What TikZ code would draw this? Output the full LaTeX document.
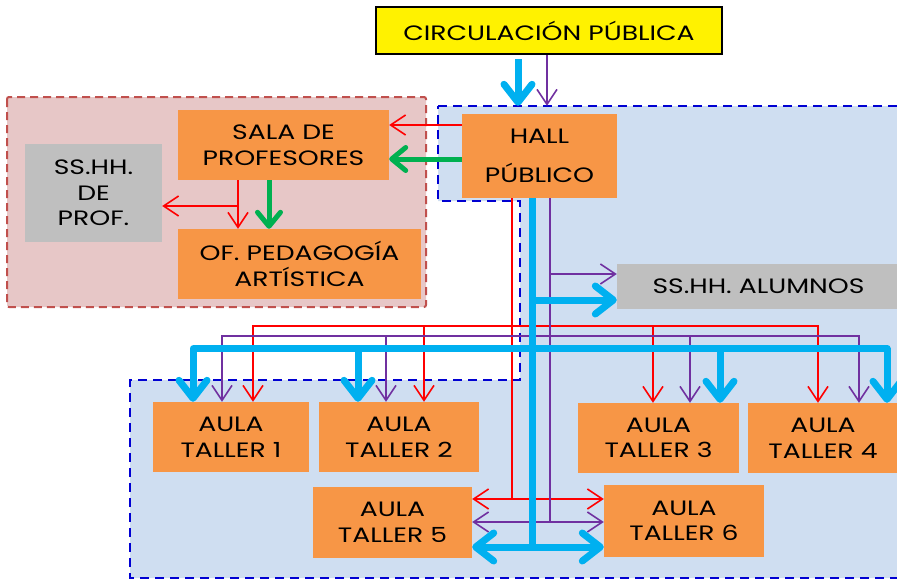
\documentclass[tikz,border=0pt]{standalone}
\usepackage{fontspec}
\setmainfont[FakeStretch=1.28]{Poppins}
\usetikzlibrary{arrows.meta, positioning, calc}
\definecolor{myorange}{RGB}{247,150,70}
\definecolor{mygray}{RGB}{191,191,191}
\definecolor{mycyan}{RGB}{0,176,240}
\definecolor{mygreen}{RGB}{0,176,80}
\definecolor{mypurple}{RGB}{112,48,160}
\definecolor{myred}{RGB}{255,0,0}
\definecolor{zoneblue}{RGB}{207,222,241}
\definecolor{edgeblue}{RGB}{0,0,210}
\definecolor{zonered}{RGB}{231,199,199}
\definecolor{edgered}{RGB}{192,80,77}

\begin{document}
\begin{tikzpicture}[x=1pt, y=-1pt,
    room/.style={fill=myorange, inner sep=0pt, align=center, font=\fontsize{20.8}{25.5}\selectfont},
    wc/.style={room, fill=mygray},
    redflow/.style={line width=1.6pt, myred, >={Straight Barb[length=15pt,width=20pt]}},
    purpleflow/.style={line width=1.6pt, mypurple, >={Straight Barb[length=15pt,width=20pt]}},
    cyanflow/.style={line width=7pt, mycyan, line join=round, >={Straight Barb[length=18pt,width=28pt,round]}},
    greenflow/.style={line width=5pt, mygreen, >={Straight Barb[length=14pt,width=23pt,round]}}]
    \useasboundingbox (0,0) rectangle (897,581);
    % Zones
    \draw[edgeblue, fill=zoneblue, line width=2.5pt, dash pattern=on 9pt off 6pt]
        (438,106) -- (905,106) -- (905,578) -- (130,578) -- (130,380) -- (520,380) -- (520,201) -- (438,201) -- cycle;
    \draw[edgered, fill=zonered, line width=2pt, dash pattern=on 8pt off 5pt, rounded corners=2pt]
        (7,97) rectangle (426,307);
    % Rooms
    \node[draw=black, line width=2.5pt, fill=yellow, minimum width=346pt, minimum height=47pt,
        inner sep=0pt, font=\fontsize{20.8}{25.5}\selectfont] (circ) at (549,30.5) {CIRCULACIÓN PÚBLICA};
    \node[room, minimum width=155pt, minimum height=84pt] (hall) at (539.5,156) {HALL\\[13.5pt]PÚBLICO};
    \node[room, minimum width=211pt, minimum height=70pt] (sala) at (283.5,145) {SALA DE\\PROFESORES};
    \node[wc, minimum width=137pt, minimum height=98pt] (sshprof) at (93.5,193) {SS.HH.\\DE\\PROF.};
    \node[room, minimum width=243pt, minimum height=70pt] (ofped) at (299.5,264) {OF. PEDAGOGÍA\\ARTÍSTICA};
    \node[wc, minimum width=283pt, minimum height=45pt] (ssalum) at (758.5,286.5) {SS.HH. ALUMNOS};
    \node[room, minimum width=156pt, minimum height=70pt] (t1) at (231,437) {AULA\\TALLER 1};
    \node[room, minimum width=160pt, minimum height=70pt] (t2) at (399,437) {AULA\\TALLER 2};
    \node[room, minimum width=161pt, minimum height=70pt] (t3) at (658.5,438) {AULA\\TALLER 3};
    \node[room, minimum width=150pt, minimum height=70pt] (t4) at (823,438) {AULA\\TALLER 4};
    \node[room, minimum width=159pt, minimum height=71pt] (t5) at (392.5,522.5) {AULA\\TALLER 5};
    \node[room, minimum width=160pt, minimum height=72pt] (t6) at (684,521) {AULA\\TALLER 6};
    % Entrance
    \draw[cyanflow, ->] ([xshift=-21.5pt,yshift=-4pt]hall.north |- circ.south) -- ([xshift=-21.5pt,yshift=8pt]hall.north);
    \draw[purpleflow, ->] ([xshift=7.5pt]hall.north |- circ.south) -- ([xshift=7.5pt,yshift=8pt]hall.north);
    % Teachers
    \draw[redflow, ->] ([yshift=31pt]hall.west) -- ([yshift=31pt]hall.west -| sala.east);
    \draw[greenflow, ->] ([yshift=-3pt]hall.west) -- ([yshift=-3pt]hall.west -| sala.east);
    \draw[redflow, ->] ([xshift=-45.5pt]sala.south) -- ([xshift=-45.5pt]sala.south |- ofped.north);
    \draw[redflow, ->] ([xshift=-45.5pt,yshift=-13pt]sala.south |- sshprof.east) -- ([yshift=-13pt]sshprof.east);
    \draw[greenflow, ->] ([xshift=-14.5pt]sala.south) -- ([xshift=-14.5pt]sala.south |- ofped.north);
    % Red routes
    \draw[redflow] ([xshift=-27.5pt]hall.south) -- ++(0,301);
    \draw[redflow, <->] ([yshift=23.5pt]t5.east) -- ([yshift=23.5pt]t5.east -| t6.west);
    \draw[redflow, <->] ([xshift=22pt]t1.north) -- ++(0,-76) coordinate (rbus) -| ([xshift=-5pt]t4.north);
    \draw[redflow, ->] ([xshift=25pt]t2.north |- rbus) -- ([xshift=25pt]t2.north);
    \draw[redflow, ->] ([xshift=-5.5pt]t3.north |- rbus) -- ([xshift=-5.5pt]t3.north);
    % Purple routes
    \draw[purpleflow] ([xshift=10.5pt]hall.south) -- ++(0,324);
    \draw[purpleflow, <->] ([yshift=0.5pt]t5.east) -- ([yshift=0.5pt]t5.east -| t6.west);
    \draw[purpleflow, ->] ([xshift=10.5pt,yshift=12.5pt]hall.south |- ssalum.west) -- ([yshift=12.5pt]ssalum.west);
    \draw[purpleflow, <->] ([xshift=-9pt]t1.north) -- ++(0,-66) coordinate (pbus) -| ([xshift=36pt]t4.north);
    \draw[purpleflow, ->] ([xshift=-13pt]t2.north |- pbus) -- ([xshift=-13pt]t2.north);
    \draw[purpleflow, ->] ([xshift=31.5pt]t3.north |- pbus) -- ([xshift=31.5pt]t3.north);
    % Cyan routes
    \draw[cyanflow] ([xshift=-7.5pt]hall.south) -- ++(0,349);
    \draw[cyanflow, <->] ([yshift=-24.5pt]t5.east) -- ([yshift=-24.5pt]t5.east -| t6.west);
    \draw[cyanflow, ->] ([xshift=-7.5pt,yshift=-13.5pt]hall.south |- ssalum.west) -- ([yshift=-13.5pt]ssalum.west);
    \draw[cyanflow, <->] ([xshift=-38pt]t1.north) -- ++(0,-53) coordinate (cbus) -| ([xshift=64pt]t4.north);
    \draw[cyanflow, ->] ([xshift=-41pt]t2.north |- cbus) -- ([xshift=-41pt]t2.north);
    \draw[cyanflow, ->] ([xshift=61.5pt]t3.north |- cbus) -- ([xshift=61.5pt]t3.north);
\end{tikzpicture}
\end{document}
